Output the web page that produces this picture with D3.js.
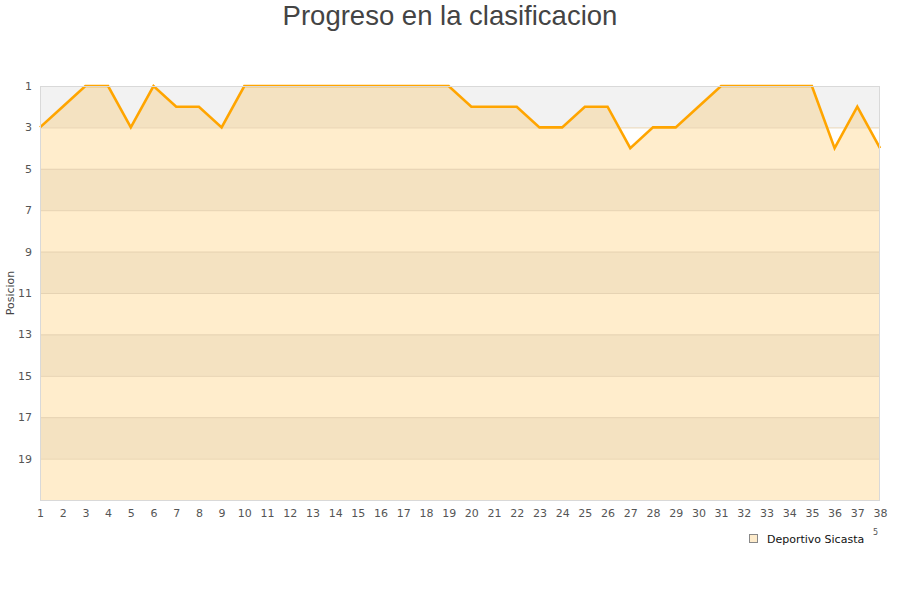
<!DOCTYPE html>
<html><head><meta charset="utf-8">
<script src="https://cdn.jsdelivr.net/npm/d3@7"></script>
<style>body{margin:0;background:#fff}svg{display:block}</style>
</head><body>
<svg id="c" width="900" height="600"></svg>
<script>
const title = "Progreso en la clasificacion";
const yLabel = "Posicion";
const seriesName = "Deportivo Sicasta";
const jornadas = d3.range(1, 39);
const posiciones = [3,2,1,1,3,1,2,2,3,1,1,1,1,1,1,1,1,1,1,2,2,2,3,3,2,2,4,3,3,2,1,1,1,1,1,4,2,4];
const yTicks = [1,3,5,7,9,11,13,15,17,19];
const bandStarts = [1,5,9,13,17];

const svg = d3.select("#c");
const L = 40, R = 880, T = 86, B = 500;
const x = d3.scaleLinear().domain([1, 38]).range([L, R]);
const y = d3.scaleLinear().domain([1, 21]).range([T, B]);

svg.selectAll("rect.band").data(bandStarts).enter().append("rect")
  .attr("x", L).attr("width", R - L)
  .attr("y", d => y(d)).attr("height", d => y(d + 2) - y(d))
  .attr("fill", "#f2f2f2");

const data = jornadas.map((j, i) => ({j, p: posiciones[i]}));
svg.append("path").datum(data)
  .attr("d", d3.area().x(d => x(d.j)).y0(B).y1(d => y(d.p)))
  .attr("fill", "#ffa500").attr("fill-opacity", 0.2);

svg.selectAll("line.grid").data(yTicks.slice(1).concat([21])).enter().append("line")
  .attr("x1", L).attr("x2", R).attr("y1", d => y(d) + 0.5).attr("y2", d => y(d) + 0.5)
  .attr("stroke", "#e6d3b3").attr("stroke-width", 1);

svg.append("path").datum(data)
  .attr("d", d3.line().x(d => x(d.j)).y(d => y(d.p)))
  .attr("fill", "none").attr("stroke", "#ffa500").attr("stroke-width", 2.6)
  .attr("stroke-linejoin", "miter");

svg.append("rect").attr("x", L + 0.5).attr("y", T + 0.5).attr("width", R - L - 1).attr("height", B - T)
  .attr("fill", "none").attr("stroke", "#d9d9d9").attr("stroke-width", 1);

const ya = svg.append("g").attr("transform", `translate(${L},0)`)
  .call(d3.axisLeft(y).tickValues(yTicks).tickSize(0).tickPadding(8));
ya.select(".domain").remove();
ya.selectAll("text").attr("font-family", "DejaVu Sans").attr("font-size", 11).attr("fill", "#555");

const xa = svg.append("g").attr("transform", `translate(0,${B})`)
  .call(d3.axisBottom(x).tickValues(jornadas).tickFormat(d3.format("d")).tickSize(0).tickPadding(9));
xa.select(".domain").remove();
xa.selectAll("text").attr("font-family", "DejaVu Sans").attr("font-size", 11).attr("fill", "#555");

svg.append("text").attr("x", 450).attr("y", 25).attr("text-anchor", "middle")
  .attr("font-family", "Liberation Sans, Arial, sans-serif").attr("font-size", 27.5).attr("fill", "#444")
  .text(title);

svg.append("text").attr("transform", "translate(14,293) rotate(-90)").attr("text-anchor", "middle")
  .attr("font-family", "DejaVu Sans").attr("font-size", 11).attr("fill", "#444").text(yLabel);

svg.append("rect").attr("x", 749.5).attr("y", 534.5).attr("width", 8).attr("height", 8)
  .attr("fill", "#fdebcb").attr("stroke", "#888").attr("stroke-width", 1);
svg.append("text").attr("x", 767).attr("y", 542.5)
  .attr("font-family", "DejaVu Sans").attr("font-size", 11).attr("fill", "#111").text(seriesName);
svg.append("text").attr("x", 873).attr("y", 535)
  .attr("font-family", "DejaVu Sans").attr("font-size", 8).attr("fill", "#555").text("5");
</script>
</body></html>
